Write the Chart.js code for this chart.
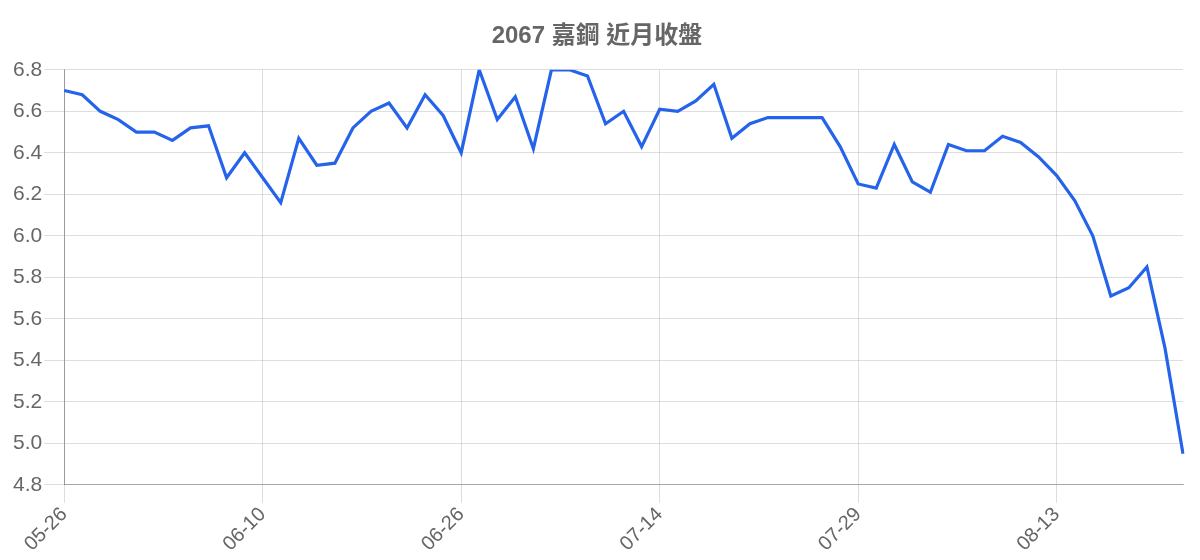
<!DOCTYPE html>
<html>
<head>
<meta charset="utf-8">
<script src="https://cdn.jsdelivr.net/npm/chart.js@4"></script>
<style>
html,body{margin:0;padding:0;background:#fff;}
#wrap{width:1200px;height:560px;}
</style>
</head>
<body>
<div id="wrap"><canvas id="c" width="1200" height="560"></canvas></div>
<script>
const titleText = '2067 嘉鋼 近月收盤';
const dates = ['05-26','05-27','05-28','05-29','05-30','06-02','06-03','06-04','06-05','06-06',
  '06-09','06-10','06-11','06-12','06-13','06-16','06-17','06-18','06-19','06-23',
  '06-24','06-25','06-26','06-27','06-30','07-01','07-02','07-03','07-07','07-08',
  '07-09','07-10','07-11','07-14','07-15','07-16','07-17','07-18','07-21','07-22',
  '07-23','07-24','07-25','07-28','07-29','07-30','07-31','08-01','08-04','08-05',
  '08-06','08-07','08-08','08-11','08-12','08-13','08-14','08-15','08-18','08-19',
  '08-20','08-21','08-22'];
const closes = [6.70,6.68,6.60,6.56,6.50,6.50,6.46,6.52,6.53,6.28,
  6.40,6.28,6.16,6.47,6.34,6.35,6.52,6.60,6.64,6.52,
  6.68,6.58,6.40,6.80,6.56,6.67,6.42,6.80,6.80,6.77,
  6.54,6.60,6.43,6.61,6.60,6.65,6.73,6.47,6.54,6.57,
  6.57,6.57,6.57,6.43,6.25,6.23,6.44,6.26,6.21,6.44,
  6.41,6.41,6.48,6.45,6.38,6.29,6.17,6.00,5.71,5.75,
  5.85,5.46,4.95];
const yMin = 4.8, yMax = 6.8, yStep = 0.2;
const labelEvery = 11;

const FONT = "'Liberation Sans', Arial, 'Noto Sans CJK TC', sans-serif";
new Chart(document.getElementById('c'), {
  type: 'line',
  data: {
    labels: dates,
    datasets: [{
      data: closes,
      borderColor: '#2563eb',
      borderWidth: 3.2,
      pointRadius: 0,
      tension: 0,
      fill: false
    }]
  },
  options: {
    responsive: false,
    animation: false,
    layout: { padding: { left: 11, right: 17, top: 0, bottom: 4 } },
    plugins: {
      legend: { display: false },
      tooltip: { enabled: false },
      title: {
        display: true,
        text: titleText,
        color: '#666',
        font: { family: FONT, size: 24, weight: 'bold' },
        padding: { top: 22, bottom: 19 }
      }
    },
    scales: {
      x: {
        ticks: {
          autoSkip: false,
          maxRotation: 45,
          minRotation: 45,
          color: '#666',
          padding: 0,
          font: { family: FONT, size: 20 },
          callback: function(v, i) { return i % labelEvery === 0 ? dates[i] : ''; }
        },
        grid: {
          color: function(ctx) { return (ctx.index % labelEvery === 0) ? 'rgba(0,0,0,0.13)' : 'rgba(0,0,0,0)'; },
          tickLength: 18
        },
        border: { color: 'rgba(0,0,0,0.25)' }
      },
      y: {
        min: yMin,
        max: yMax,
        ticks: {
          stepSize: yStep,
          color: '#666',
          padding: 2,
          font: { family: FONT, size: 21 },
          callback: function(v) { return Number(v).toFixed(1); }
        },
        grid: { color: 'rgba(0,0,0,0.13)', tickLength: 20 },
        border: { color: 'rgba(0,0,0,0.3)' }
      }
    }
  }
});
</script>
</body>
</html>
